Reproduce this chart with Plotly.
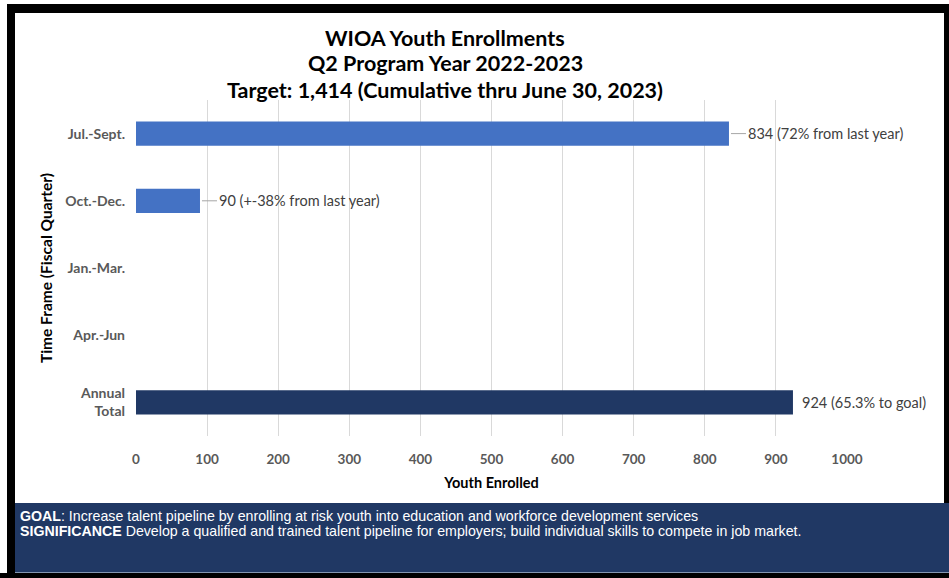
import plotly.graph_objects as go

categories = ["Jul.-Sept.", "Oct.-Dec.", "Jan.-Mar.", "Apr.-Jun", "Annual<br>Total"]
values = [834, 90, None, None, 924]
labels = ["834 (72% from last year)", "90 (+-38% from last year)", None, None, "924 (65.3% to goal)"]
bar_colors = ["#4472C4", "#4472C4", "#4472C4", "#4472C4", "#203864"]
x_ticks = [0, 100, 200, 300, 400, 500, 600, 700, 800, 900, 1000]
title_lines = ["WIOA Youth Enrollments", "Q2 Program Year 2022-2023", "Target: 1,414 (Cumulative thru June 30, 2023)"]
footer_lines = [
    "<b>GOAL</b>: Increase talent pipeline by enrolling at risk youth into education and workforce development services",
    "<b>SIGNIFICANCE</b> Develop a qualified and trained talent pipeline for employers; build individual skills to compete in job market.",
]

W, H = 949, 578
L, R, T, B = 136, 102, 100, 142
PW, PH = W - L - R, H - T - B

def px(X):
    return (X - L) / PW

def py(Y):
    return (H - B - Y) / PH

fig = go.Figure()
fig.add_trace(go.Bar(
    y=categories, x=values, orientation="h",
    marker=dict(color=bar_colors, line=dict(width=0)),
    width=0.36, hoverinfo="skip",
))

annotations = []
for i, (cat, v, lab) in enumerate(zip(categories, values, labels)):
    if v is None or lab is None:
        continue
    if i < 4:
        annotations.append(dict(
            x=v, y=cat, xref="x", yref="y", text=lab, showarrow=True,
            arrowhead=0, arrowwidth=1, arrowcolor="#a6a6a6", ax=17, ay=0,
            xanchor="left", standoff=2,
            font=dict(family="Lato", size=14.5, color="#404040"),
        ))
    else:
        annotations.append(dict(
            x=v, y=cat, xref="x", yref="y", text=lab, showarrow=False,
            xanchor="left", xshift=7,
            font=dict(family="Lato", size=14.5, color="#404040"),
        ))

# title lines
for line, yc in zip(title_lines, [38, 63, 90]):
    annotations.append(dict(
        xref="paper", yref="paper", x=px(445), y=py(yc), xanchor="center", yanchor="middle",
        showarrow=False, text=f"<b>{line}</b>",
        font=dict(family="Lato", size=21.5, color="black"),
    ))

# footer text
for line, yc in zip(footer_lines, [516, 531]):
    annotations.append(dict(
        xref="paper", yref="paper", x=px(18), y=py(yc), xanchor="left", yanchor="middle",
        align="left", showarrow=False, text=line,
        font=dict(family="Liberation Sans", size=14.2, color="white"),
    ))

shapes = [
    dict(type="rect", xref="paper", yref="paper", x0=px(15), x1=px(949), y0=py(573), y1=py(503),
         fillcolor="#203864", line=dict(width=0), layer="below"),
    dict(type="line", xref="paper", yref="paper", x0=px(15), x1=px(949), y0=py(572.5), y1=py(572.5),
         line=dict(color="#8496b0", width=1)),
    dict(type="rect", xref="paper", yref="paper", x0=px(7), x1=px(949), y0=py(13), y1=py(4),
         fillcolor="black", line=dict(width=0)),
    dict(type="rect", xref="paper", yref="paper", x0=px(7), x1=px(15), y0=py(578), y1=py(4),
         fillcolor="black", line=dict(width=0)),
    dict(type="rect", xref="paper", yref="paper", x0=px(944), x1=px(949), y0=py(503), y1=py(4),
         fillcolor="black", line=dict(width=0)),
    dict(type="rect", xref="paper", yref="paper", x0=px(0), x1=px(949), y0=py(578), y1=py(573),
         fillcolor="black", line=dict(width=0)),
]

fig.update_layout(
    width=W, height=H,
    margin=dict(l=L, r=R, t=T, b=B),
    paper_bgcolor="white", plot_bgcolor="white",
    showlegend=False,
    xaxis=dict(
        range=[0, 1000], tickvals=x_ticks, ticktext=[f"<b>{t}</b>" for t in x_ticks],
        showgrid=True, gridcolor="#d9d9d9", gridwidth=1, zeroline=False,
        showline=False, ticks="", ticklabelstandoff=13,
        tickfont=dict(family="Lato", size=13.5, color="#595959"),
        title=dict(text="<b>Youth Enrolled</b>", font=dict(family="Lato", size=14.5, color="black"), standoff=12),
        fixedrange=True,
    ),
    yaxis=dict(
        categoryorder="array", categoryarray=categories, autorange="reversed",
        tickvals=categories, ticktext=[f"<b>{c}</b>" for c in categories],
        showgrid=False, zeroline=False, showline=False, ticks="", ticklabelstandoff=10,
        tickfont=dict(family="Lato", size=14, color="#595959"),
        title=dict(text="<b>Time Frame (Fiscal Quarter)</b>", font=dict(family="Lato", size=15.5, color="black"), standoff=8),
        fixedrange=True,
    ),
    annotations=annotations,
    shapes=shapes,
)

fig.write_html("out.html")
